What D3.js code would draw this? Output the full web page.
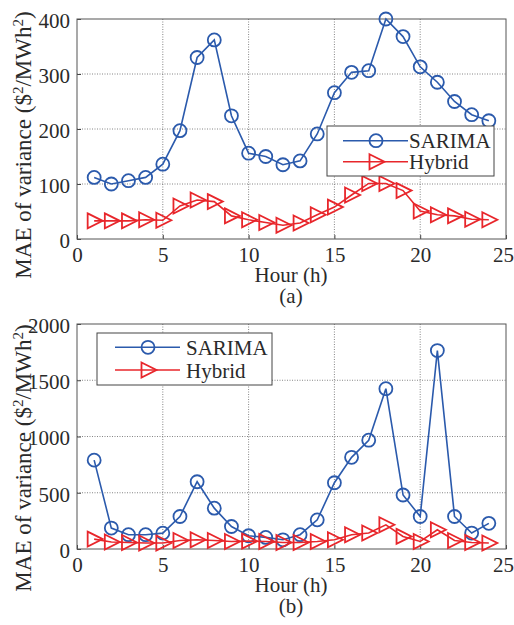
<!DOCTYPE html>
<html><head><meta charset="utf-8">
<script src="https://cdn.jsdelivr.net/npm/d3@7"></script>
<style>body{margin:0;background:#fff}svg{display:block}</style>
</head><body>
<script>
const hours = d3.range(1, 25);
const sarimaA = [112,100,106,112,136,197,330,362,224,156,150,135,142,191,266,303,306,400,368,313,285,250,226,215];
const hybridA = [33,33,33,35,34,60,71,68,42,35,30,25,29,44,58,80,101,101,88,51,44,42,36,35];
const sarimaB = [790,186,127,127,141,289,598,363,200,118,103,82,127,259,589,815,967,1425,480,289,1764,289,142,228];
const hybridB = [88,62,58,53,53,76,82,76,67,70,67,58,58,67,82,127,142,215,112,67,171,76,58,53];
const xTicks = [0,5,10,15,20,25];
const yTicksA = [0,100,200,300,400];
const yTicksB = [0,500,1000,1500,2000];
const seriesNames = ["SARIMA","Hybrid"];
const colors = ["#2b5aac","#e8262b"];

const W = 514, H = 625;
const FONT = 'Liberation Serif';
const TXT = "#2a2a2a";
const svg = d3.select("body").append("svg").attr("width", W).attr("height", H);

const triPath = "M-6.5,-7.5L8.5,0L-6.5,7.5Z";
const txt = (sel,size)=>sel.style("font-family",FONT).style("font-size",size+"px").attr("fill",TXT);

function panel(cfg){
  const g = svg.append("g");
  const x = d3.scaleLinear().domain([0,25]).range([77,506]);
  const y = d3.scaleLinear().domain(cfg.yDomain).range([cfg.bottom, cfg.top]);
  // grid
  g.selectAll(".gx").data(xTicks.slice(1,-1)).join("line")
    .attr("x1", d=>x(d)).attr("x2", d=>x(d)).attr("y1", cfg.top).attr("y2", cfg.bottom)
    .attr("stroke","#666").attr("stroke-width",0.8).attr("stroke-dasharray","1,1.5");
  g.selectAll(".gy").data(cfg.yTicks.slice(1,-1)).join("line")
    .attr("y1", d=>y(d)).attr("y2", d=>y(d)).attr("x1", 77).attr("x2", 506)
    .attr("stroke","#666").attr("stroke-width",0.8).attr("stroke-dasharray","1,1.5");
  // axes
  const ax = g.append("g").attr("transform",`translate(0,${cfg.bottom})`)
    .call(d3.axisBottom(x).tickValues(xTicks).tickFormat(d3.format("d")).tickSize(-4).tickPadding(6));
  const ay = g.append("g").attr("transform","translate(77,0)")
    .call(d3.axisLeft(y).tickValues(cfg.yTicks).tickFormat(d3.format("d")).tickSize(-4).tickPadding(7));
  [ax,ay].forEach(a=>{
    a.attr("font-family",null).attr("font-size",null);
    a.select(".domain").remove();
    a.selectAll("line").attr("stroke","#444");
    txt(a.selectAll("text"),21);
  });
  ax.selectAll("text").attr("y",23).attr("dy",null).attr("dx", d => d === 25 ? -3 : 0);
  ay.selectAll("text").attr("dy","0.4em");
  // frame
  g.append("rect").attr("x",77).attr("y",cfg.top).attr("width",429).attr("height",cfg.bottom-cfg.top)
    .attr("fill","none").attr("stroke","#555").attr("stroke-width",1);
  // series
  const data = [cfg.s, cfg.h];
  data.forEach((vals,i)=>{
    const pts = hours.map((h,k)=>[x(h), y(vals[k])]);
    g.append("path").attr("d", d3.line()(pts)).attr("fill","none").attr("stroke",colors[i]).attr("stroke-width",1.6);
    if(i===0){
      g.selectAll(null).data(pts).join("circle").attr("cx",d=>d[0]).attr("cy",d=>d[1]).attr("r",6.5)
        .attr("fill","none").attr("stroke",colors[i]).attr("stroke-width",1.8);
    } else {
      g.selectAll(null).data(pts).join("path").attr("d",triPath).attr("transform",d=>`translate(${d[0]},${d[1]})`)
        .attr("fill","none").attr("stroke",colors[i]).attr("stroke-width",1.8);
    }
  });
  // labels
  txt(g.append("text").attr("x", 291).attr("y", cfg.bottom+43).attr("text-anchor","middle").text("Hour (h)"),21);
  txt(g.append("text").attr("x", 291).attr("y", cfg.bottom+64).attr("text-anchor","middle").text(cfg.sub),21);
  const yl = txt(g.append("text").attr("transform",`translate(31,${cfg.labelY}) rotate(-90)`).attr("text-anchor","middle"),23);
  yl.append("tspan").text("MAE of variance ($");
  yl.append("tspan").attr("baseline-shift","super").style("font-size","15px").text("2");
  yl.append("tspan").text("/MWh");
  yl.append("tspan").attr("baseline-shift","super").style("font-size","15px").text("2");
  yl.append("tspan").text(")");
  // legend
  const L = cfg.legend;
  const lg = g.append("g").attr("transform",`translate(${L.x},${L.y})`);
  lg.append("rect").attr("width",L.w).attr("height",L.h).attr("fill","#fff").attr("stroke","#444").attr("stroke-width",1);
  seriesNames.forEach((n,i)=>{
    const yy = L.r0 + i*L.dr;
    lg.append("line").attr("x1",L.l0).attr("x2",L.l0+65).attr("y1",yy).attr("y2",yy).attr("stroke",colors[i]).attr("stroke-width",1.6);
    if(i===0) lg.append("circle").attr("cx",L.l0+33).attr("cy",yy).attr("r",6.5).attr("fill","none").attr("stroke",colors[i]).attr("stroke-width",1.8);
    else lg.append("path").attr("d",triPath).attr("transform",`translate(${L.l0+33},${yy})`).attr("fill","none").attr("stroke",colors[i]).attr("stroke-width",1.8);
    txt(lg.append("text").attr("x",L.tx).attr("y",yy).attr("dy","0.36em").text(n),21);
  });
}

panel({top:19, bottom:239, yDomain:[0,400], yTicks:yTicksA, s:sarimaA, h:hybridA, sub:"(a)", labelY:145,
  legend:{x:327,y:126,w:167,h:50,r0:14.7,dr:21,l0:16,tx:82}});
panel({top:324, bottom:549, yDomain:[0,2000], yTicks:yTicksB, s:sarimaB, h:hybridB, sub:"(b)", labelY:458,
  legend:{x:97,y:333,w:175,h:52,r0:14.3,dr:22.7,l0:18,tx:89}});
</script>
</body></html>
